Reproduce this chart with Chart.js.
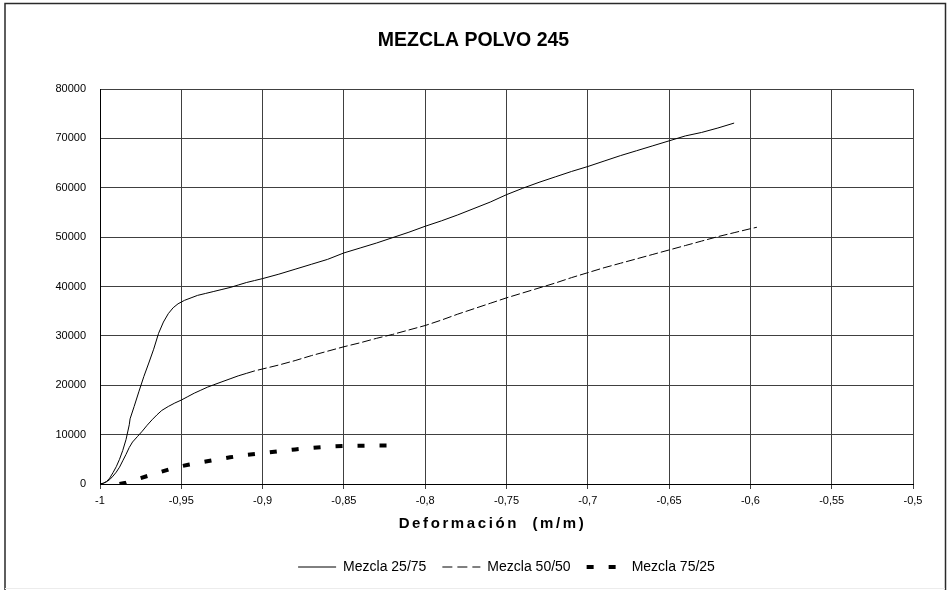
<!DOCTYPE html>
<html>
<head>
<meta charset="utf-8">
<title>MEZCLA POLVO 245</title>
<script src="https://cdn.jsdelivr.net/npm/chart.js@4/dist/chart.umd.min.js"></script>
<style>
  html, body { margin: 0; padding: 0; background: #fff; }
  #wrap { width: 947px; height: 590px; position: relative; }
</style>
</head>
<body>
<div id="wrap"><canvas id="chart" width="947" height="590"></canvas></div>
<script>
// Axis ticks
const xTickValues = [-1, -0.95, -0.9, -0.85, -0.8, -0.75, -0.7, -0.65, -0.6, -0.55, -0.5];
const yTickValues = [0, 10000, 20000, 30000, 40000, 50000, 60000, 70000, 80000];

// Series names
const seriesNames = ['Mezcla 25/75', 'Mezcla 50/50', 'Mezcla 75/25'];

// Mezcla 25/75: deformation (m/m) and load
const deform2575 = [-1, -0.998, -0.996, -0.994, -0.992, -0.99, -0.988, -0.986, -0.984, -0.982, -0.9815,
  -0.979, -0.976, -0.973, -0.97, -0.967, -0.964, -0.961, -0.958, -0.955, -0.952, -0.948, -0.944,
  -0.94, -0.935, -0.93, -0.925, -0.92, -0.915, -0.91, -0.905, -0.9, -0.89, -0.88, -0.87, -0.86,
  -0.85, -0.84, -0.83, -0.82, -0.81, -0.8, -0.79, -0.78, -0.77, -0.76, -0.75, -0.74, -0.73,
  -0.72, -0.71, -0.7, -0.69, -0.68, -0.67, -0.66, -0.65, -0.64, -0.63, -0.62, -0.61];
const load2575 = [0, 150, 500, 1200, 2300, 3500, 5000, 6800, 9000, 12000, 13200,
  15700, 18800, 21800, 24500, 27300, 30500, 32800, 34500, 35700, 36500, 37200, 37700,
  38200, 38600, 39000, 39400, 39800, 40300, 40800, 41200, 41600, 42500, 43500, 44500, 45500,
  46800, 47800, 48800, 49900, 51000, 52200, 53300, 54500, 55800, 57100, 58600, 59900, 61100,
  62200, 63300, 64300, 65400, 66500, 67500, 68500, 69500, 70500, 71200, 72100, 73100];

// Mezcla 50/50
const deform5050 = [-1, -0.998, -0.996, -0.994, -0.992, -0.99, -0.988, -0.986, -0.984, -0.982, -0.98,
  -0.977, -0.974, -0.971, -0.968, -0.965, -0.962, -0.958, -0.954, -0.95, -0.946, -0.942, -0.938,
  -0.934, -0.93, -0.925, -0.92, -0.915, -0.91, -0.905, -0.9, -0.89, -0.88, -0.87, -0.86, -0.85,
  -0.84, -0.83, -0.82, -0.81, -0.8, -0.79, -0.78, -0.77, -0.76, -0.75, -0.74, -0.73, -0.72,
  -0.71, -0.7, -0.69, -0.68, -0.67, -0.66, -0.65, -0.64, -0.63, -0.62, -0.61, -0.6, -0.596];
const load5050 = [0, 150, 450, 900, 1600, 2400, 3400, 4700, 6000, 7400, 8500,
  9600, 10700, 11900, 13000, 14000, 14900, 15700, 16400, 17000, 17700, 18400, 19000,
  19600, 20100, 20700, 21300, 21900, 22400, 22900, 23300, 24100, 25000, 26000, 26900, 27800,
  28600, 29500, 30300, 31200, 32100, 33200, 34400, 35500, 36600, 37700, 38700, 39700, 40700,
  41800, 42800, 43800, 44700, 45600, 46500, 47400, 48300, 49200, 50100, 50900, 51700, 52000];

// Mezcla 75/25
const deform7525 = [-0.988, -0.984, -0.98, -0.975, -0.97, -0.965, -0.96, -0.955, -0.95, -0.945,
  -0.94, -0.935, -0.93, -0.92, -0.91, -0.9, -0.89, -0.88, -0.87, -0.86, -0.85, -0.84, -0.83, -0.82];
const load7525 = [0, 250, 700, 1200, 1700, 2200, 2700, 3200, 3600, 3950,
  4250, 4550, 4850, 5400, 5900, 6250, 6650, 7000, 7300, 7550, 7700, 7750, 7800, 7800];

const toPoints = (xs, ys) => xs.map((x, i) => ({ x: x, y: ys[i] }));

const FONT = "'Liberation Sans', Arial, sans-serif";
const GRID = '#404040';

// Whole-chart frame and the x-axis title (drawn with letter spacing)
const framePlugin = {
  id: 'frame',
  beforeDraw(chart) {
    const ctx = chart.ctx;
    ctx.save();
    ctx.fillStyle = '#fff';
    ctx.fillRect(0, 0, chart.width, chart.height);
    ctx.strokeStyle = '#2a2a2a';
    ctx.lineWidth = 1.5;
    ctx.beginPath();
    ctx.moveTo(5, chart.height);
    ctx.lineTo(5, 3.5);
    ctx.lineTo(945.5, 3.5);
    ctx.lineTo(945.5, chart.height);
    ctx.stroke();
    ctx.strokeStyle = '#ececec';
    ctx.lineWidth = 1;
    ctx.beginPath();
    ctx.moveTo(5, 588.5);
    ctx.lineTo(945, 588.5);
    ctx.stroke();
    ctx.restore();
  },
  afterDraw(chart) {
    const ctx = chart.ctx;
    const area = chart.chartArea;
    ctx.save();
    ctx.font = 'bold 15px ' + FONT;
    ctx.letterSpacing = '2.6px';
    ctx.fillStyle = '#000';
    ctx.textAlign = 'center';
    ctx.textBaseline = 'middle';
    ctx.fillText('Deformación  (m/m)', (area.left + area.right) / 2 - 14, area.bottom + 40);
    ctx.restore();
  }
};

new Chart(document.getElementById('chart'), {
  type: 'line',
  data: {
    datasets: [
      {
        label: seriesNames[0],
        data: toPoints(deform2575, load2575),
        borderColor: '#000',
        borderWidth: 1,
        pointRadius: 0,
        tension: 0
      },
      {
        label: seriesNames[1],
        data: toPoints(deform5050, load5050),
        borderColor: '#000',
        borderWidth: 1,
        borderDash: [9, 3],
        pointRadius: 0,
        tension: 0,
        segment: {
          // dense early readings render as an unbroken stroke
          borderDash: c => (c.p0.parsed.x < -0.91 ? [] : undefined)
        }
      },
      {
        label: seriesNames[2],
        data: toPoints(deform7525, load7525),
        borderColor: '#000',
        borderWidth: 4,
        borderDash: [7, 15],
        borderCapStyle: 'butt',
        pointRadius: 0,
        tension: 0
      }
    ]
  },
  options: {
    responsive: false,
    animation: false,
    layout: { padding: { top: 0, left: 0, right: 0, bottom: 6 } },
    plugins: {
      title: {
        display: true,
        text: 'MEZCLA POLVO 245',
        color: '#000',
        font: { family: FONT, size: 19.5, weight: 'bold' },
        padding: { top: 28.5, bottom: 37.1 }
      },
      legend: {
        display: true,
        position: 'bottom',
        fullSize: false,
        labels: {
          color: '#000',
          font: { family: FONT, size: 14 },
          usePointStyle: true,
          pointStyle: 'line',
          pointStyleWidth: 38,
          padding: 16,
          generateLabels(chart) {
            const items = Chart.defaults.plugins.legend.labels.generateLabels(chart);
            items.forEach((it, i) => {
              const ds = chart.data.datasets[i];
              it.pointStyle = 'line';
              it.fillStyle = '#000';
              it.strokeStyle = '#000';
              it.lineWidth = ds.borderWidth;
              it.lineCap = 'butt';
              it.lineDash = i === 1 ? [10, 5] : (ds.borderDash || []);
            });
            return items;
          }
        }
      },
      tooltip: { enabled: false }
    },
    scales: {
      x: {
        type: 'linear',
        min: -1,
        max: -0.5,
        afterBuildTicks(scale) { scale.ticks = xTickValues.map(v => ({ value: v })); },
        afterFit(scale) { scale.height = 60; },
        ticks: {
          color: '#000',
          font: { family: FONT, size: 11 },
          padding: 5,
          maxRotation: 0,
          autoSkip: false,
          callback: v => String(Math.round(v * 100) / 100).replace('.', ',')
        },
        grid: { color: GRID, lineWidth: 1, tickLength: 5, drawTicks: true },
        border: { color: '#000', width: 1 }
      },
      y: {
        min: 0,
        max: 80000,
        afterBuildTicks(scale) { scale.ticks = yTickValues.map(v => ({ value: v })); },
        afterFit(scale) { scale.width = 100; },
        ticks: {
          color: '#000',
          font: { family: FONT, size: 11 },
          padding: 14,
          callback: v => String(v)
        },
        grid: { color: GRID, lineWidth: 1, drawTicks: false },
        border: { color: '#000', width: 1 }
      },
      // empty margin strip on the right of the plot
      yRight: {
        position: 'right',
        min: 0,
        max: 1,
        afterFit(scale) { scale.width = 34; },
        ticks: { display: false },
        grid: { display: false, drawTicks: false },
        border: { display: false }
      }
    }
  },
  plugins: [framePlugin]
});
</script>
</body>
</html>
